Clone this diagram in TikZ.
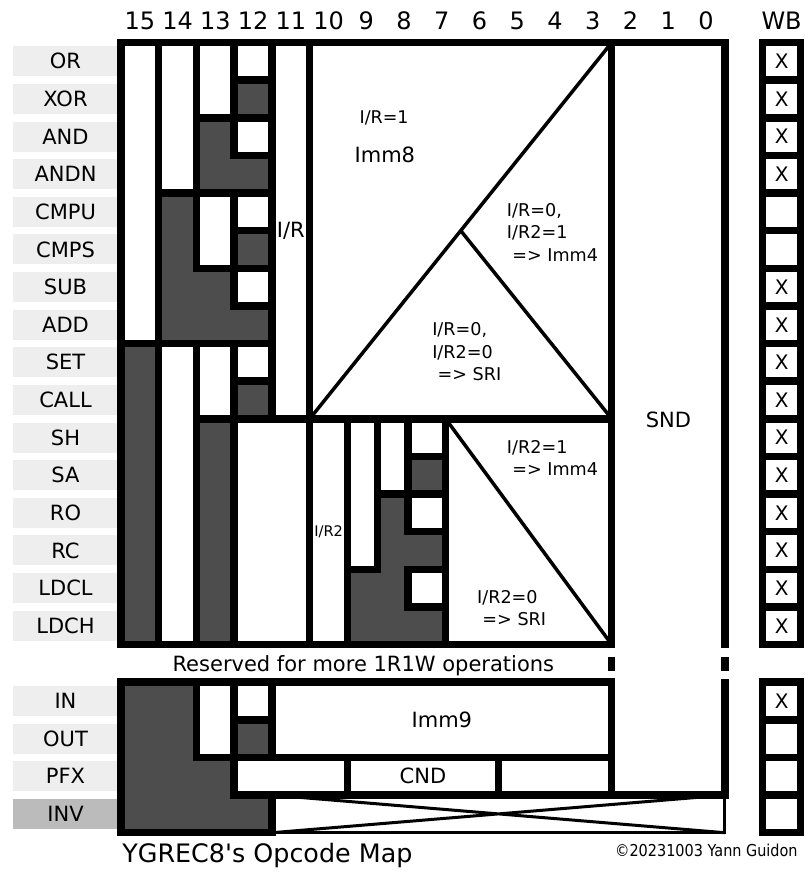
\documentclass[tikz,border=0pt]{standalone}
\usepackage{graphicx}
\usepackage{fontspec}
\setmainfont{DejaVu Sans}
\definecolor{darkcell}{HTML}{4D4D4D}
\definecolor{lblbg}{HTML}{EEEEEE}
\definecolor{invbg}{HTML}{BBBBBB}
\begin{document}
\begin{tikzpicture}[x=37.75pt,y=-37.63pt,
  tk/.style={line width=7.5pt},
  tn/.style={line width=3.5pt},
  lbl/.style={fill=lblbg,minimum width=105pt,minimum height=30pt,inner sep=0pt,font=\fontsize{21}{24}\selectfont},
  bitnum/.style={inner sep=0pt,font=\fontsize{24}{27}\selectfont},
  boxtxt/.style={inner sep=0pt,font=\fontsize{21}{24}\selectfont},
  tritxt/.style={inner sep=0pt,align=left,font=\fontsize{17.6}{22.5}\selectfont},
  wbx/.style={inner sep=0pt,font=\fontsize{20}{22}\selectfont},
]
\fill[white] (-3.2053,-1.1294) rectangle (18.2517,22.0973);
\useasboundingbox (-3.2053,-1.1294) rectangle (18.2517,22.0973);
% labels
\foreach \t [count=\i from 0] in {OR,XOR,AND,ANDN,CMPU,CMPS,SUB,ADD,SET,CALL,SH,SA,RO,RC,LDCL,LDCH}
  \node[lbl] (lab\i) at (-1.47,\i+0.5) {\t};
\node[lbl] (labIN) at (-1.47,17.5) {IN};
\node[lbl] (labOUT) at (-1.47,18.5) {OUT};
\node[lbl] (labPFX) at (-1.47,19.5) {PFX};
\node[lbl,fill=invbg] (labINV) at (-1.47,20.5) {INV};
% bit numbers
\foreach \b [count=\i from 0] in {15,14,...,0}
  \node[bitnum] (bit\b) at (\i+0.5,-0.571) {\b};
\node[bitnum] (wb) at (17.5,-0.571) {WB};
% dark fills
\fill[darkcell] (0,0) rectangle (4,16);
\fill[darkcell] (6,10) rectangle (8.6,16);
\fill[darkcell] (0,17) rectangle (4,21);
% white cells
\def\cells{0/0/1/8, 1/0/2/4, 1/8/2/16, 2/0/3/2, 2/4/3/6, 2/8/3/10,
  3/0/4/1, 3/2/4/3, 3/4/4/5, 3/6/4/7, 3/8/4/9, 3/10/5/16, 4/0/5/10,
  5/0/13/10, 5/10/6/16, 6/10/6.8/14, 6.8/10/7.6/12, 7.6/10/8.6/11,
  7.6/12/8.6/13, 7.6/14/8.6/15, 8.6/10/13/16,
  2/17/3/19, 3/17/4/18, 4/17/13/19, 3/19/6/20, 6/19/10/20, 10/19/13/20}
\foreach \a/\b/\c/\d in \cells \fill[white] (\a,\b) rectangle (\c,\d);
\foreach \a/\b/\c/\d in \cells \draw[tk] (\a,\b) rectangle (\c,\d);
% WB column
\foreach \k in {0,...,15} \draw[tk,fill=white] (17,\k) rectangle (18,\k+1);
\foreach \k in {17,...,20} \draw[tk,fill=white] (17,\k) rectangle (18,\k+1);
% frames
\draw[tk] (0,0) rectangle (13,16);
\draw[tk] (13,16.1) -- (13,0) -- (16,0) -- (16,16.1);
\draw[tk] (13,16.32) -- (13,16.69) (16,16.32) -- (16,16.69);
\draw[tk] (13,16.91) -- (13,20);
\draw[tk] (16,16.91) -- (16,20) -- (3,20);
\draw[tk] (4,20) -- (4,21) -- (0,21) -- (0,17) -- (13,17);
% thin lines
\draw[tn] (5,10) -- (13,0) (9,5) -- (13,10) (8.6,10) -- (13,16);
\draw[line width=3pt] (4,20) -- (16,21) (4,21) -- (16,20);
\draw[line width=3pt] (4,21) -- (16,21) -- (16,20);
% WB marks
\foreach \k in {0,1,2,3,6,7,8,9,10,11,12,13,14,15,17}
  \node[wbx] (wbx\k) at (17.5,\k+0.5) {X};
% texts
\node[boxtxt] (ir) at (4.5,5) {I/R};
\node[inner sep=0pt,font=\fontsize{14.6}{16}\selectfont] (irtwo) at (5.5,13) {I/R2};
\node[inner sep=0pt,font=\fontsize{17.5}{20}\selectfont] (irone) at (6.97,2.0) {I/R=1};
\node[inner sep=0pt,font=\fontsize{21}{24}\selectfont] (immeight) at (6.99,2.99) {Imm8};
\node[tritxt,anchor=west] (ta) at (10.22,5.04) {I/R=0,\\I/R2=1\\\hspace*{0.3em}=> Imm4};
\node[tritxt,anchor=west] (tb) at (8.24,8.22) {I/R=0,\\I/R2=0\\\hspace*{0.3em}=> SRI};
\node[tritxt,anchor=west] (tc) at (10.22,11.04) {I/R2=1\\\hspace*{0.3em}=> Imm4};
\node[tritxt,anchor=west] (td) at (9.43,15.03) {I/R2=0\\\hspace*{0.3em}=> SRI};
\node[boxtxt] (snd) at (14.5,10.03) {SND};
\node[boxtxt] (res) at (6.42,16.57) {Reserved for more 1R1W operations};
\node[boxtxt] (immnine) at (8.5,18) {Imm9};
\node[boxtxt] (cnd) at (8,19.5) {CND};
\node[inner sep=0pt,anchor=base west,font=\fontsize{25.4}{28}\selectfont] (title) at (0.03,21.78) {YGREC8\textquotesingle s Opcode Map};
\node[inner sep=0pt,anchor=base east,font=\fontsize{16.4}{18}\selectfont] (copy) at (17.93,21.64) {\scalebox{0.88}[1]{©20231003 Yann Guidon}};
\end{tikzpicture}
\end{document}
